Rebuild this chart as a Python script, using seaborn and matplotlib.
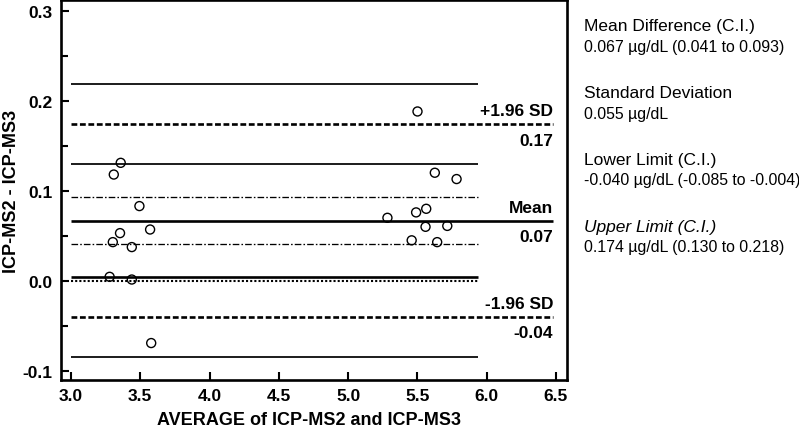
import matplotlib
matplotlib.use("Agg")
import matplotlib.pyplot as plt
import seaborn as sns
import numpy as np
import pandas as pd

# ---------------- data ----------------
avg = [5.501, 3.359, 3.309, 5.626, 5.783, 3.494, 5.564, 5.491, 5.284, 3.354,
       3.571, 5.559, 5.716, 3.302, 3.439, 5.459, 5.643, 3.279, 3.439, 3.579]
diff = [0.188, 0.131, 0.118, 0.120, 0.113, 0.083, 0.080, 0.076, 0.070, 0.053,
        0.057, 0.060, 0.061, 0.043, 0.0375, 0.045, 0.043, 0.0045, 0.0015, -0.069]

mean_diff = 0.067
mean_ci = [0.041, 0.093]
upper_limit = 0.174
upper_ci = [0.130, 0.218]
lower_limit = -0.040
lower_ci = [-0.085, 0.004]   # as drawn in the reference
zero_line = 0.0

label_names = ["+1.96 SD", "Mean", "-1.96 SD"]
label_values = ["0.17", "0.07", "-0.04"]

x_ticks = [3.0, 3.5, 4.0, 4.5, 5.0, 5.5, 6.0, 6.5]
y_ticks = [-0.1, 0.0, 0.1, 0.2, 0.3]

info_lines = [
    ("Mean Difference (C.I.)", "0.067 \u00b5g/dL (0.041 to 0.093)", "normal"),
    ("Standard Deviation", "0.055 \u00b5g/dL", "normal"),
    ("Lower Limit (C.I.)", "-0.040 \u00b5g/dL (-0.085 to -0.004)", "normal"),
    ("Upper Limit (C.I.)", "0.174 \u00b5g/dL (0.130 to 0.218)", "italic"),
]

line_start = 3.0
ci_end = 5.938
limit_end = 6.48

# ---------------- style ----------------
sns.set_theme(style="white")
plt.rcParams["font.family"] = ["Liberation Sans", "DejaVu Sans"]
plt.rcParams["text.color"] = "black"
plt.rcParams["axes.labelcolor"] = "black"
plt.rcParams["xtick.color"] = "black"
plt.rcParams["ytick.color"] = "black"

fig = plt.figure(figsize=(7.99, 4.31), dpi=100)
ax = fig.add_axes([61 / 799, 50 / 431, 506 / 799, 380 / 431])

df = pd.DataFrame({"avg": avg, "diff": diff})

thin = 1.25
thick = 1.9

# CI lines (thin solid)
ax.hlines([upper_ci[1], upper_ci[0], lower_ci[0]], line_start, ci_end,
          colors="black", linewidth=thin)
ax.hlines([lower_ci[1]], line_start, ci_end, colors="black", linewidth=thick)
# mean CI (dash-dot)
ax.hlines(mean_ci, line_start, ci_end, colors="black", linewidth=0.95,
          linestyles=[(0, (5, 1.6, 1.2, 1.6))])
# zero (dotted)
ax.hlines([zero_line], line_start, ci_end, colors="black", linewidth=1.5,
          linestyles=[(0, (1, 1))])
# limits (thick dashed) and mean (thick solid)
ax.hlines([upper_limit, lower_limit], line_start, limit_end, colors="black",
          linewidth=thick, linestyles=[(0, (2.2, 1.0))])
ax.hlines([mean_diff], line_start, limit_end, colors="black", linewidth=thick)

sns.scatterplot(data=df, x="avg", y="diff", ax=ax, marker="o", s=42,
                facecolor="none", edgecolor="black", linewidth=1.0, zorder=5)

# labels on the right of lines
for name, val, lvl in zip(label_names, label_values,
                          [upper_limit, mean_diff, lower_limit]):
    ax.annotate(name, xy=(limit_end, lvl), xytext=(0, 9.5),
                textcoords="offset points", ha="right", va="center",
                fontsize=12.5, fontweight="bold", color="black")
    ax.annotate(val, xy=(limit_end, lvl), xytext=(0, -11.5),
                textcoords="offset points", ha="right", va="center",
                fontsize=12.5, fontweight="bold", color="black")

ax.set_xlim(2.928, 6.58)
ax.set_ylim(-0.110, 0.3117)
ax.set_xticks(x_ticks)
ax.set_xticklabels([f"{t:.1f}" for t in x_ticks])
ax.set_yticks(y_ticks)
ax.set_yticklabels([f"{t:.1f}" for t in y_ticks])
ax.set_yticks(np.arange(-0.1, 0.31, 0.05), minor=True)

ax.tick_params(axis="both", which="major", direction="in", length=6,
               width=1.5, color="black", labelcolor="black", labelsize=12.5, pad=6)
ax.tick_params(axis="y", which="minor", direction="in", length=5,
               width=1.5, color="black", left=True)
ax.tick_params(axis="x", which="major", bottom=True)
ax.tick_params(axis="y", which="major", left=True)
for lab in ax.get_xticklabels() + ax.get_yticklabels():
    lab.set_fontweight("bold")

for sp in ax.spines.values():
    sp.set_linewidth(1.9)
    sp.set_color("black")
    sp.set_visible(True)

ax.set_xlabel("AVERAGE of ICP-MS2 and ICP-MS3", fontsize=13, fontweight="bold",
              color="black")
ax.set_ylabel("ICP-MS2 - ICP-MS3", fontsize=13, fontweight="bold", color="black")
ax.xaxis.set_label_coords(0.49, -0.082)
ax.yaxis.set_label_coords(-0.082, 0.5)

# info text on the right
tx = 584 / 799
y0 = 27
for i, (title, value, style) in enumerate(info_lines):
    yt = y0 + i * 66.7
    fig.text(tx, 1 - yt / 431, title, fontsize=12.5, fontstyle=style,
             va="center", ha="left", color="black")
    fig.text(tx, 1 - (yt + 20.5) / 431, value, fontsize=11.4,
             va="center", ha="left", color="black")

fig.savefig("out.png", dpi=100)
